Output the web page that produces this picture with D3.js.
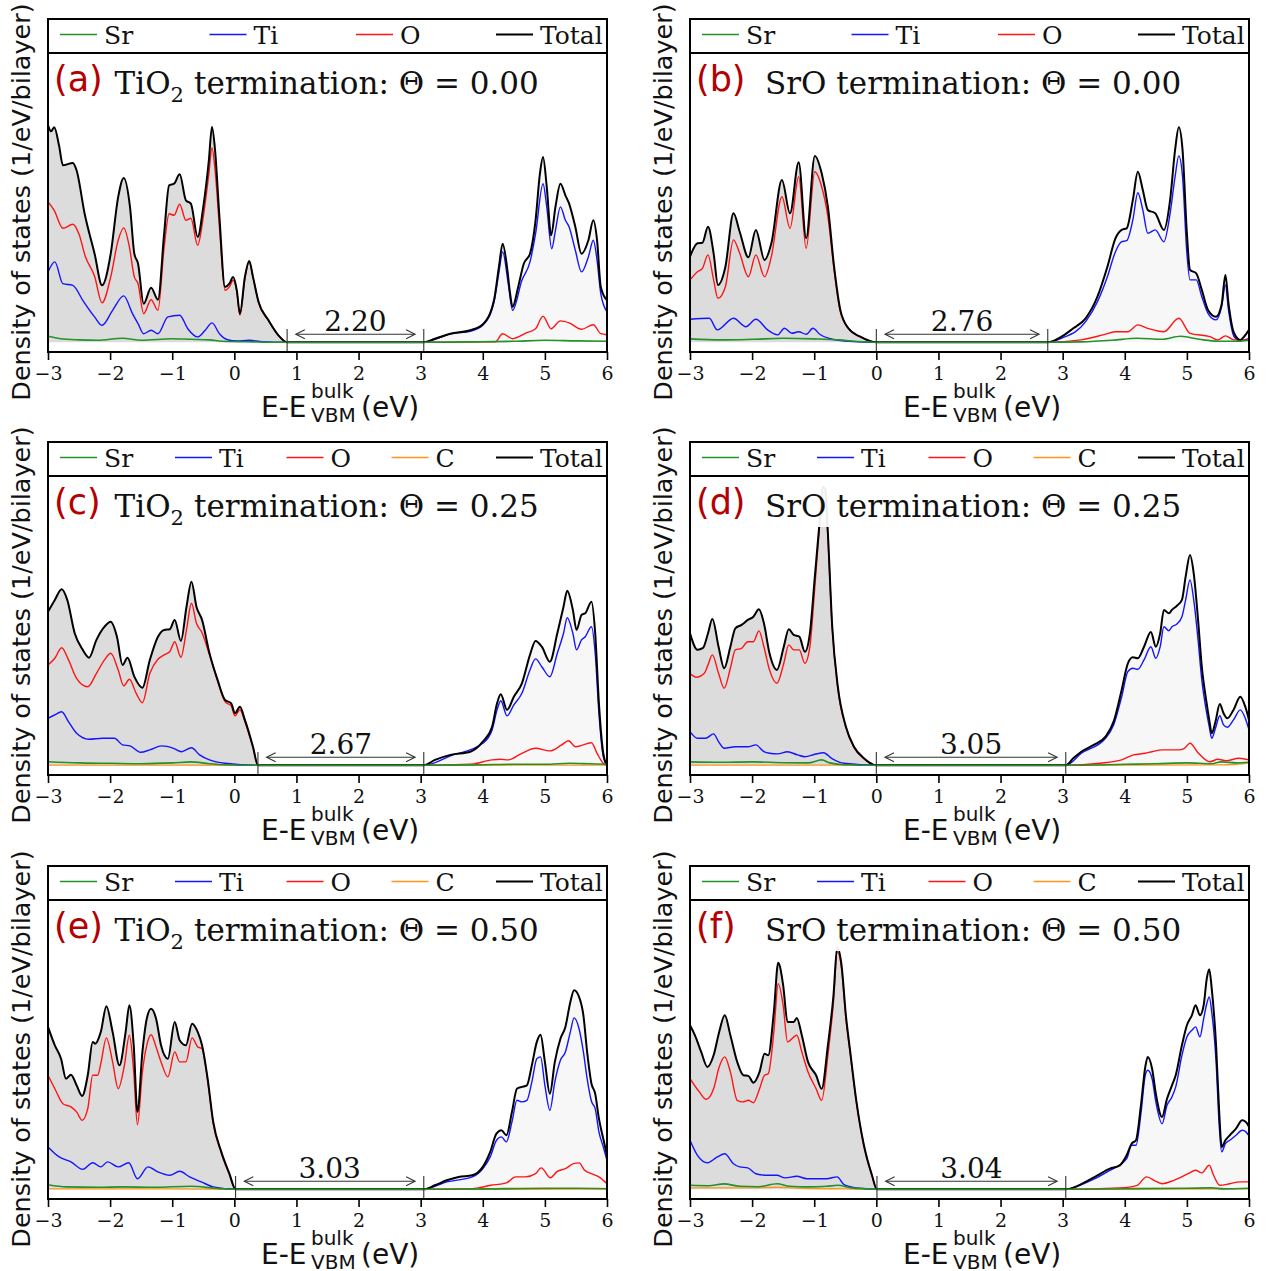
<!DOCTYPE html>
<html>
<head>
<meta charset="utf-8">
<script src="https://cdn.jsdelivr.net/npm/d3@7"></script>
<style>
  html, body { margin: 0; padding: 0; background: #ffffff; }
  svg { display: block; }
</style>
</head>
<body>
<svg id="fig" width="1270" height="1271"></svg>
<script>
// ---------------------------------------------------------------
// Projected density of states of SrTiO3 slabs, E - E_VBM(bulk) in eV
// Each series is a list of [energy, DOS] pairs (DOS in states/eV/bilayer).
// ---------------------------------------------------------------
const energyTicks = [-3, -2, -1, 0, 1, 2, 3, 4, 5, 6];
const panelTags = ['(a)', '(b)', '(c)', '(d)', '(e)', '(f)'];
const terminations = ['TiO2', 'SrO', 'TiO2', 'SrO', 'TiO2', 'SrO'];
const coverages = ['0.00', '0.00', '0.25', '0.25', '0.50', '0.50'];
const vbmEdges = [0.85, 0.00, 0.38, 0.00, 0.02, 0.01];
const bandGaps = [2.20, 2.76, 2.67, 3.05, 3.03, 3.04];
const speciesNames = ['Sr', 'Ti', 'O', 'C', 'Total'];
const speciesColors = { Sr: '#22922a', Ti: '#1414ff', O: '#ff1414', C: '#ff951c', Total: '#000000' };

// (a) TiO2 termination, coverage 0.00
const totA = [[-3.0,10.85],[-2.95,10.55],[-2.9,10.75],[-2.82,9.8],[-2.76,8.85],[-2.6,8.97],[-2.54,8.6],[-2.41,6.43],[-2.25,4.43],[-2.13,2.85],[-1.99,4.43],[-1.87,7.27],[-1.78,8.22],[-1.68,6.77],[-1.61,4.43],[-1.55,3.93],[-1.46,1.93],[-1.34,2.73],[-1.23,2.13],[-1.13,5.43],[-1.05,7.85],[-0.97,7.93],[-0.88,8.4],[-0.78,7.1],[-0.70,6.93],[-0.59,5.27],[-0.50,6.77],[-0.41,9.1],[-0.36,10.77],[-0.31,9.6],[-0.24,6.27],[-0.15,2.77],[-0.08,2.93],[-0.02,3.27],[0.04,2.6],[0.09,1.43],[0.17,3.27],[0.24,4.07],[0.30,3.27],[0.39,2.02],[0.55,1.1],[0.71,0.35],[0.85,0],
  [3.05,0],[3.23,0.18],[3.48,0.43],[3.80,0.6],[4.01,0.93],[4.18,2.1],[4.26,3.77],[4.32,4.93],[4.39,3.77],[4.44,2.43],[4.48,1.77],[4.57,2.77],[4.66,3.93],[4.76,4.43],[4.85,6.1],[4.92,8.43],[4.97,9.27],[5.03,7.77],[5.10,5.35],[5.17,6.77],[5.25,7.93],[5.33,7.35],[5.39,6.93],[5.49,5.77],[5.59,4.43],[5.70,5.1],[5.78,6.1],[5.84,5.1],[5.90,2.77],[6.0,2.1]];
const oA = [[-3.0,7.02],[-2.9,6.6],[-2.76,5.7],[-2.6,5.9],[-2.5,5.4],[-2.4,4.3],[-2.25,3.3],[-2.13,1.97],[-1.99,3.27],[-1.87,5.1],[-1.78,5.72],[-1.69,4.77],[-1.61,3.27],[-1.55,2.93],[-1.46,1.43],[-1.34,2.13],[-1.23,1.6],[-1.13,4.77],[-1.05,6.43],[-0.97,6.35],[-0.88,6.9],[-0.78,6.1],[-0.70,6.2],[-0.59,4.85],[-0.50,6.27],[-0.41,8.43],[-0.36,9.72],[-0.31,8.6],[-0.24,5.77],[-0.15,2.6],[-0.08,2.77],[-0.02,3.1],[0.04,2.52],[0.09,1.35],[0.17,3.18],[0.24,4.02],[0.30,3.27],[0.39,2.0],[0.55,1.1],[0.71,0.35],[0.85,0],
  [3.05,0],[4.2,0.02],[4.32,0.43],[4.48,0.18],[4.7,0.47],[4.85,0.68],[4.97,1.3],[5.1,0.68],[5.25,1.07],[5.39,0.97],[5.59,0.65],[5.78,0.88],[5.9,0.43],[6.0,0.38]];
const tiA = [[-3.0,3.52],[-2.89,4.02],[-2.76,2.93],[-2.6,2.85],[-2.44,2.1],[-2.25,1.27],[-2.13,0.85],[-1.96,1.6],[-1.78,2.32],[-1.64,1.43],[-1.55,0.93],[-1.46,0.43],[-1.34,0.6],[-1.23,0.43],[-1.07,1.27],[-0.88,1.35],[-0.75,0.68],[-0.59,0.27],[-0.47,0.6],[-0.36,0.97],[-0.24,0.43],[-0.11,0.13],[0.04,0.07],[0.24,0.1],[0.45,0.03],[0.85,0],
  [3.05,0],[3.23,0.15],[3.48,0.43],[3.80,0.55],[4.0,0.85],[4.18,2.0],[4.26,3.5],[4.32,4.52],[4.41,2.93],[4.48,1.6],[4.63,3.1],[4.76,4.02],[4.85,5.43],[4.97,7.93],[5.03,6.77],[5.11,4.68],[5.17,5.6],[5.25,6.77],[5.33,6.1],[5.39,5.77],[5.49,4.6],[5.59,3.52],[5.70,4.27],[5.78,5.1],[5.84,4.1],[5.90,2.43],[6.0,1.52]];
const srA = [[-3.0,0.3],[-2.8,0.18],[-2.5,0.12],[-2.2,0.1],[-1.8,0.2],[-1.5,0.1],[-1.0,0.18],[-0.7,0.15],[-0.4,0.12],[-0.2,0.05],[0.3,0.02],[0.85,0],[3.05,0],[4.0,0.03],[4.5,0.05],[5.0,0.1],[5.5,0.07],[6.0,0.05]];

// (b) SrO termination, coverage 0.00
const totB = [[-3.0,4.28],[-2.88,4.95],[-2.8,4.98],[-2.71,5.78],[-2.62,4.45],[-2.55,2.87],[-2.43,3.78],[-2.3,6.45],[-2.2,5.53],[-2.06,4.25],[-1.94,5.62],[-1.8,4.12],[-1.69,4.95],[-1.52,8.12],[-1.39,6.45],[-1.25,9.0],[-1.13,5.2],[-0.99,9.32],[-0.88,8.45],[-0.78,6.78],[-0.68,3.78],[-0.58,1.62],[-0.45,0.7],[-0.26,0.28],[0.0,0],
  [2.76,0],[2.98,0.28],[3.17,0.7],[3.37,1.2],[3.56,2.28],[3.72,3.78],[3.85,5.2],[3.95,5.62],[4.03,5.7],[4.13,7.12],[4.21,8.53],[4.29,7.62],[4.37,6.62],[4.49,6.45],[4.63,5.62],[4.73,7.12],[4.81,9.62],[4.87,10.75],[4.93,9.62],[5.0,5.45],[5.05,3.62],[5.15,3.45],[5.24,2.62],[5.34,1.62],[5.47,1.28],[5.56,1.9],[5.62,3.37],[5.67,1.95],[5.76,0.45],[5.86,0.12],[5.92,0.28],[6.0,0.62]];
const oB = [[-3.0,3.12],[-2.88,3.53],[-2.8,3.7],[-2.71,4.37],[-2.62,3.12],[-2.55,2.2],[-2.43,2.78],[-2.3,5.12],[-2.2,4.45],[-2.06,3.28],[-1.94,4.37],[-1.8,3.28],[-1.69,4.28],[-1.52,7.28],[-1.39,5.7],[-1.25,8.28],[-1.13,4.7],[-0.99,8.53],[-0.88,7.78],[-0.78,6.28],[-0.68,3.62],[-0.58,1.53],[-0.45,0.7],[-0.26,0.28],[0.0,0],
  [2.76,0],[3.3,0.12],[3.65,0.37],[3.85,0.53],[4.05,0.53],[4.21,0.87],[4.37,0.7],[4.63,0.53],[4.87,1.2],[5.05,0.45],[5.37,0.28],[5.5,0.12],[5.62,0.32],[5.76,0.12],[6.0,0.12]];
const tiB = [[-3.0,1.15],[-2.69,1.2],[-2.56,0.62],[-2.3,1.2],[-2.1,0.78],[-1.94,1.15],[-1.75,0.62],[-1.59,0.37],[-1.48,0.7],[-1.36,0.45],[-1.25,0.53],[-1.13,0.4],[-1.02,0.7],[-0.91,0.4],[-0.71,0.15],[-0.45,0.05],[0.0,0],
  [2.76,0],[2.98,0.2],[3.37,1.03],[3.56,2.03],[3.72,3.28],[3.85,4.53],[3.95,5.03],[4.03,5.08],[4.13,6.12],[4.21,7.48],[4.29,6.62],[4.37,5.45],[4.49,5.62],[4.63,5.03],[4.73,6.45],[4.81,8.28],[4.87,9.32],[4.93,8.28],[5.0,4.45],[5.05,3.12],[5.15,3.12],[5.24,2.28],[5.34,1.45],[5.47,1.12],[5.56,1.8],[5.62,2.87],[5.67,1.62],[5.76,0.28],[5.86,0.08],[6.0,0.2]];
const srB = [[-3.0,0.17],[-2.5,0.12],[-2.0,0.15],[-1.5,0.2],[-1.0,0.17],[-0.6,0.12],[-0.3,0.04],[0.0,0],[2.76,0],[3.3,0.02],[3.8,0.1],[4.2,0.2],[4.6,0.15],[4.9,0.3],[5.2,0.15],[5.5,0.05],[5.8,0.05],[6.0,0.1]];

// (c) TiO2 termination, coverage 0.25
const totC = [[-3.0,7.68],[-2.89,8.27],[-2.78,8.8],[-2.69,8.27],[-2.57,6.6],[-2.44,5.77],[-2.34,5.38],[-2.22,6.27],[-2.09,6.93],[-1.99,7.18],[-1.89,6.43],[-1.8,5.02],[-1.72,5.38],[-1.61,4.43],[-1.48,3.88],[-1.36,5.27],[-1.23,6.43],[-1.13,6.77],[-1.04,6.8],[-0.96,7.27],[-0.86,6.22],[-0.77,7.93],[-0.69,9.18],[-0.61,7.93],[-0.52,7.27],[-0.4,5.6],[-0.27,4.27],[-0.15,3.27],[-0.05,3.1],[0.01,2.6],[0.09,2.93],[0.17,2.27],[0.3,0.93],[0.38,0],
  [3.05,0],[3.23,0.27],[3.48,0.52],[3.8,0.68],[4.0,1.18],[4.15,1.93],[4.23,3.1],[4.29,3.55],[4.39,2.77],[4.5,3.43],[4.63,4.1],[4.76,5.52],[4.85,6.22],[4.95,5.93],[5.08,5.18],[5.2,6.6],[5.3,7.93],[5.36,8.73],[5.45,7.77],[5.51,6.77],[5.59,7.52],[5.65,7.6],[5.75,8.18],[5.81,6.6],[5.87,3.1],[5.94,0.6],[6.0,0]];
const oC = [[-3.0,5.02],[-2.89,5.35],[-2.78,5.88],[-2.67,5.27],[-2.54,4.35],[-2.36,3.93],[-2.22,4.6],[-2.09,5.27],[-1.99,5.6],[-1.87,4.77],[-1.78,3.97],[-1.69,4.3],[-1.58,3.6],[-1.48,3.13],[-1.36,4.6],[-1.23,5.3],[-1.13,5.52],[-1.04,5.68],[-0.96,6.18],[-0.86,5.4],[-0.77,6.77],[-0.69,8.1],[-0.61,7.1],[-0.52,6.63],[-0.4,5.52],[-0.27,4.23],[-0.15,3.18],[-0.05,2.97],[0.01,2.47],[0.09,2.77],[0.17,2.18],[0.3,0.9],[0.38,0],
  [3.05,0],[3.8,0.05],[4.15,0.27],[4.28,0.3],[4.41,0.27],[4.63,0.6],[4.85,0.85],[5.08,0.72],[5.27,1.02],[5.38,1.23],[5.49,0.93],[5.62,1.02],[5.75,1.13],[5.84,0.6],[5.94,0.1],[6.0,0]];
const tiC = [[-3.0,2.35],[-2.89,2.52],[-2.78,2.68],[-2.67,2.18],[-2.54,1.6],[-2.34,1.3],[-2.12,1.35],[-1.93,1.35],[-1.8,1.02],[-1.68,0.97],[-1.51,0.65],[-1.36,0.77],[-1.17,0.97],[-0.98,0.85],[-0.85,0.68],[-0.69,0.88],[-0.56,0.52],[-0.4,0.27],[-0.15,0.1],[0.38,0],
  [3.05,0],[3.48,0.47],[4.0,1.1],[4.15,1.77],[4.23,2.77],[4.29,3.23],[4.39,2.47],[4.5,3.02],[4.63,3.6],[4.76,4.77],[4.85,5.32],[4.95,4.93],[5.08,4.43],[5.2,5.6],[5.3,6.6],[5.36,7.38],[5.45,6.6],[5.51,5.77],[5.59,6.27],[5.65,6.43],[5.75,6.93],[5.81,5.6],[5.87,2.6],[5.94,0.43],[6.0,0]];
const srC = [[-3.0,0.18],[-2.5,0.12],[-2.0,0.1],[-1.5,0.08],[-1.0,0.12],[-0.7,0.17],[-0.4,0.08],[-0.15,0.03],[0.38,0],[3.05,0],[4.0,0.03],[4.5,0.05],[5.0,0.05],[5.4,0.1],[5.7,0.08],[6.0,0.05]];
const carbonC = [[-3.0,0.01],[-1.0,0.01],[0.38,0],[3.05,0],[5.0,0.01],[6.0,0.01]];

// (d) SrO termination, coverage 0.25
const totD = [[-3.0,6.6],[-2.88,5.78],[-2.79,5.87],[-2.71,6.6],[-2.64,7.32],[-2.54,5.93],[-2.45,4.85],[-2.35,5.93],[-2.27,6.85],[-2.17,7.02],[-2.07,7.27],[-1.98,7.43],[-1.89,7.8],[-1.81,7.1],[-1.72,5.6],[-1.6,4.77],[-1.49,5.93],[-1.41,6.8],[-1.33,6.52],[-1.24,6.43],[-1.15,5.68],[-1.07,6.6],[-0.99,9.43],[-0.92,11.93],[-0.86,13.93],[-0.82,13.77],[-0.78,11.6],[-0.71,6.93],[-0.62,3.93],[-0.49,1.93],[-0.36,0.93],[-0.2,0.35],[0.0,0],
  [3.05,0],[3.17,0.35],[3.3,0.68],[3.5,1.02],[3.69,1.43],[3.82,2.18],[3.95,3.77],[4.05,5.1],[4.13,5.4],[4.21,5.35],[4.31,5.93],[4.42,6.67],[4.5,5.93],[4.57,6.6],[4.63,7.77],[4.71,7.6],[4.76,7.77],[4.84,7.98],[4.92,8.27],[4.98,9.43],[5.05,10.52],[5.11,9.6],[5.18,7.27],[5.24,4.93],[5.31,3.27],[5.36,2.27],[5.4,1.6],[5.46,2.18],[5.53,3.07],[5.59,2.6],[5.65,2.35],[5.75,2.77],[5.86,3.43],[5.94,2.93],[6.0,2.27]];
const oD = [[-3.0,4.6],[-2.9,4.4],[-2.77,4.6],[-2.71,5.02],[-2.64,5.52],[-2.54,4.6],[-2.45,3.85],[-2.35,4.85],[-2.27,5.77],[-2.17,5.85],[-2.07,6.18],[-1.98,6.18],[-1.89,6.72],[-1.81,5.93],[-1.72,4.77],[-1.6,4.1],[-1.49,5.1],[-1.41,6.02],[-1.33,5.77],[-1.24,5.77],[-1.15,5.1],[-1.07,5.93],[-0.99,8.93],[-0.92,11.77],[-0.86,13.68],[-0.82,13.52],[-0.78,11.43],[-0.71,6.85],[-0.62,3.85],[-0.49,1.9],[-0.36,0.9],[-0.2,0.33],[0.0,0],
  [3.05,0],[3.6,0.1],[3.95,0.27],[4.14,0.52],[4.33,0.6],[4.44,0.68],[4.6,0.77],[4.86,0.77],[4.96,0.85],[5.05,1.1],[5.18,0.63],[5.37,0.18],[5.5,0.3],[5.63,0.23],[5.84,0.35],[6.0,0.27]];
const tiD = [[-3.0,1.68],[-2.88,1.35],[-2.75,1.35],[-2.62,1.57],[-2.54,1.18],[-2.45,0.85],[-2.27,0.93],[-2.07,0.93],[-1.94,1.02],[-1.81,0.68],[-1.72,0.6],[-1.59,0.57],[-1.43,0.68],[-1.27,0.52],[-1.15,0.43],[-0.99,0.55],[-0.85,0.63],[-0.72,0.35],[-0.52,0.1],[0.0,0],
  [3.05,0],[3.3,0.6],[3.69,1.35],[3.82,2.02],[3.95,3.43],[4.05,4.68],[4.13,4.85],[4.21,4.8],[4.31,5.27],[4.42,5.93],[4.5,5.35],[4.57,5.93],[4.63,6.93],[4.71,6.73],[4.76,6.93],[4.84,7.07],[4.92,7.43],[4.98,8.27],[5.05,9.27],[5.11,8.27],[5.18,6.27],[5.24,4.27],[5.31,2.77],[5.36,1.93],[5.4,1.35],[5.46,1.85],[5.53,2.48],[5.59,2.02],[5.65,1.9],[5.75,2.27],[5.86,2.77],[5.94,2.35],[6.0,1.77]];
const srD = [[-3.0,0.17],[-2.5,0.15],[-2.0,0.17],[-1.5,0.13],[-1.1,0.12],[-0.88,0.27],[-0.75,0.12],[-0.5,0.03],[0.0,0],[3.05,0],[4.0,0.05],[4.5,0.08],[5.0,0.12],[5.4,0.08],[5.55,0.17],[5.8,0.12],[6.0,0.15]];
const carbonD = [[-3.0,0.01],[-1.0,0.01],[0.0,0],[3.05,0],[5.5,0.02],[5.8,0.05],[6.0,0.12]];

// (e) TiO2 termination, coverage 0.50
const totE = [[-3.0,8.12],[-2.89,7.2],[-2.79,6.53],[-2.71,5.53],[-2.63,5.73],[-2.54,5.2],[-2.45,4.67],[-2.36,5.7],[-2.28,7.37],[-2.24,7.28],[-2.15,7.87],[-2.06,9.15],[-1.96,7.87],[-1.85,6.2],[-1.75,7.87],[-1.69,9.2],[-1.62,7.2],[-1.56,3.87],[-1.48,6.87],[-1.41,8.53],[-1.34,9.03],[-1.26,8.53],[-1.18,7.2],[-1.07,6.53],[-0.96,8.37],[-0.88,7.45],[-0.78,7.2],[-0.68,8.28],[-0.59,7.87],[-0.52,7.2],[-0.43,5.53],[-0.34,3.37],[-0.21,1.87],[-0.08,0.78],[0.02,0],
  [3.05,0],[3.23,0.2],[3.42,0.45],[3.61,0.62],[3.83,0.7],[4.0,1.12],[4.12,1.87],[4.22,2.78],[4.3,2.95],[4.38,2.7],[4.47,3.87],[4.55,5.03],[4.63,5.12],[4.71,5.2],[4.79,6.2],[4.87,7.37],[4.93,7.73],[5.0,6.37],[5.08,4.78],[5.16,6.37],[5.25,7.53],[5.33,8.12],[5.41,9.37],[5.47,9.95],[5.55,9.62],[5.62,8.7],[5.68,6.87],[5.75,5.28],[5.81,4.78],[5.87,3.53],[5.94,2.53],[6.0,1.7]];
const oE = [[-3.0,5.7],[-2.89,5.03],[-2.76,4.28],[-2.63,4.12],[-2.54,3.87],[-2.45,3.45],[-2.36,4.03],[-2.28,5.7],[-2.2,5.7],[-2.15,6.28],[-2.06,7.57],[-1.96,6.37],[-1.87,5.03],[-1.77,6.2],[-1.69,7.7],[-1.62,5.87],[-1.56,3.23],[-1.48,5.87],[-1.41,7.2],[-1.34,7.73],[-1.26,7.12],[-1.18,6.37],[-1.07,5.62],[-0.96,6.87],[-0.88,6.37],[-0.78,6.37],[-0.68,7.57],[-0.59,7.12],[-0.52,7.03],[-0.43,5.45],[-0.34,3.28],[-0.21,1.83],[-0.08,0.75],[0.02,0],
  [3.05,0],[3.83,0.03],[4.13,0.2],[4.38,0.32],[4.53,0.62],[4.69,0.62],[4.85,0.78],[4.94,1.07],[5.09,0.58],[5.2,0.9],[5.33,1.03],[5.46,1.28],[5.55,1.32],[5.64,0.95],[5.75,0.78],[5.87,0.62],[6.0,0.28]];
const tiE = [[-3.0,2.12],[-2.82,1.62],[-2.63,1.37],[-2.44,1.0],[-2.28,1.33],[-2.15,1.12],[-2.04,1.37],[-1.87,1.12],[-1.7,1.33],[-1.56,0.53],[-1.39,1.12],[-1.23,0.87],[-1.04,0.7],[-0.88,0.9],[-0.72,0.62],[-0.53,0.37],[-0.34,0.12],[0.02,0],
  [3.05,0],[3.42,0.37],[3.83,0.62],[4.0,1.03],[4.12,1.62],[4.22,2.45],[4.3,2.62],[4.38,2.37],[4.47,3.37],[4.55,4.45],[4.63,4.37],[4.71,4.45],[4.79,5.37],[4.87,6.53],[4.93,6.62],[5.0,5.2],[5.08,3.95],[5.16,5.37],[5.25,6.45],[5.33,6.87],[5.41,7.87],[5.47,8.57],[5.55,8.03],[5.62,6.87],[5.68,5.53],[5.75,4.4],[5.81,4.03],[5.87,2.87],[5.94,2.12],[6.0,1.45]];
const srE = [[-3.0,0.23],[-2.7,0.12],[-2.2,0.1],[-1.8,0.12],[-1.3,0.1],[-0.7,0.15],[-0.3,0.05],[0.02,0],[3.05,0],[4.0,0.02],[5.0,0.05],[5.5,0.05],[6.0,0.03]];
const carbonE = [[-3.0,0.02],[-1.0,0.02],[0.02,0],[3.05,0],[6.0,0.01]];

// (f) SrO termination, coverage 0.50
const totF = [[-3.0,8.2],[-2.92,7.7],[-2.82,6.87],[-2.72,6.12],[-2.62,6.7],[-2.53,7.87],[-2.44,8.7],[-2.35,7.7],[-2.24,6.37],[-2.14,5.7],[-2.06,5.67],[-1.98,5.33],[-1.88,5.87],[-1.8,6.78],[-1.74,6.7],[-1.65,8.87],[-1.58,11.33],[-1.5,10.2],[-1.43,8.37],[-1.33,8.37],[-1.28,8.57],[-1.2,7.7],[-1.1,6.37],[-0.97,5.7],[-0.88,5.03],[-0.78,7.2],[-0.69,9.7],[-0.63,12.1],[-0.56,11.2],[-0.49,8.7],[-0.42,6.87],[-0.32,4.37],[-0.2,2.2],[-0.07,0.7],[0.01,0],
  [3.05,0],[3.24,0.17],[3.37,0.37],[3.56,0.7],[3.76,1.03],[3.92,1.2],[4.03,1.7],[4.11,2.28],[4.18,2.45],[4.26,4.2],[4.33,6.12],[4.37,6.62],[4.44,6.03],[4.5,4.78],[4.6,3.62],[4.68,4.53],[4.76,5.2],[4.82,5.7],[4.92,7.2],[5.0,8.2],[5.08,8.7],[5.14,9.2],[5.21,8.7],[5.27,9.2],[5.32,10.53],[5.36,11.0],[5.4,10.03],[5.47,7.2],[5.52,3.87],[5.56,2.12],[5.62,2.45],[5.69,2.7],[5.79,3.03],[5.89,3.45],[5.95,3.37],[6.0,3.12]];
const oF = [[-3.0,5.53],[-2.85,4.87],[-2.74,4.5],[-2.62,5.03],[-2.53,6.12],[-2.44,6.62],[-2.35,5.87],[-2.24,4.45],[-2.15,4.37],[-2.06,4.45],[-1.98,4.33],[-1.88,5.03],[-1.8,5.7],[-1.74,5.78],[-1.65,7.87],[-1.58,10.28],[-1.5,9.2],[-1.43,7.37],[-1.28,7.7],[-1.2,6.87],[-1.1,5.87],[-0.97,5.03],[-0.88,4.45],[-0.78,6.7],[-0.69,9.37],[-0.63,11.87],[-0.56,11.03],[-0.49,8.53],[-0.42,6.78],[-0.32,4.33],[-0.2,2.17],[-0.07,0.67],[0.01,0],
  [3.05,0],[3.92,0.07],[4.2,0.2],[4.35,0.62],[4.5,0.4],[4.6,0.28],[4.79,0.45],[5.02,0.78],[5.14,0.95],[5.24,0.82],[5.36,1.2],[5.43,0.7],[5.53,0.2],[5.69,0.28],[5.85,0.37],[6.0,0.37]];
const tiF = [[-3.0,2.45],[-2.88,1.7],[-2.72,1.33],[-2.56,1.62],[-2.44,1.78],[-2.3,1.28],[-2.2,1.12],[-2.07,1.07],[-1.94,0.78],[-1.75,0.7],[-1.6,0.7],[-1.47,0.57],[-1.28,0.65],[-1.12,0.53],[-0.96,0.53],[-0.8,0.53],[-0.63,0.62],[-0.52,0.23],[-0.32,0.07],[0.01,0],
  [3.05,0],[3.37,0.32],[3.76,0.95],[4.03,1.53],[4.11,2.2],[4.18,2.2],[4.26,3.78],[4.33,5.7],[4.37,5.95],[4.44,5.53],[4.5,4.37],[4.6,3.28],[4.68,4.2],[4.76,4.62],[4.82,5.12],[4.92,6.7],[5.0,7.62],[5.08,7.95],[5.14,8.12],[5.21,7.62],[5.27,8.53],[5.32,9.28],[5.36,9.62],[5.4,8.87],[5.47,6.37],[5.52,3.2],[5.56,1.87],[5.62,2.28],[5.69,2.45],[5.79,2.7],[5.89,2.95],[5.95,2.87],[6.0,2.67]];
const srF = [[-3.0,0.2],[-2.7,0.18],[-2.45,0.27],[-2.2,0.15],[-1.9,0.13],[-1.6,0.28],[-1.4,0.15],[-1.1,0.12],[-0.8,0.15],[-0.62,0.2],[-0.4,0.07],[-0.1,0.02],[0.01,0],[3.05,0],[4.0,0.03],[5.0,0.05],[5.4,0.07],[5.6,0.02],[6.0,0.05]];
const carbonF = [[-3.0,0.07],[-2.0,0.07],[-1.6,0.1],[-1.2,0.05],[-0.5,0.02],[0.01,0],[3.05,0],[6.0,0.02]];

// series per panel, in panel order (a)..(f)
const srSeries = [srA, srB, srC, srD, srE, srF];
const tiSeries = [tiA, tiB, tiC, tiD, tiE, tiF];
const oSeries = [oA, oB, oC, oD, oE, oF];
const carbonSeries = [null, null, carbonC, carbonD, carbonE, carbonF];
const totalSeries = [totA, totB, totC, totD, totE, totF];

// ---------------------------------------------------------------
// layout
// ---------------------------------------------------------------
const svg = d3.select('#fig');
const colLeft = [48, 690];
const rowTop = [19, 442, 866];
const plotW = 559;
const legendH = 34;        // legend strip above each axes
const axesBottomOff = 333; // axes bottom relative to row top
const zeroOff = 323.3;     // DOS = 0 level relative to row top
const pxPerUnit = 20;
const yMin = -(axesBottomOff - zeroOff) / pxPerUnit;
const yMax = (zeroOff - legendH) / pxPerUnit;

const serif = "'DejaVu Serif', 'Liberation Serif', serif";
const sans = "'DejaVu Sans', 'Liberation Sans', sans-serif";

const legendSlots = { 4: [12, 161.5, 308, 448], 5: [12, 127, 238.5, 343.5, 448] };

function fmtTick(d) { return d < 0 ? '\u2212' + Math.abs(d) : String(d); }

panelTags.forEach((tag, i) => {
  const col = i % 2, row = Math.floor(i / 2);
  const x0 = colLeft[col], t = rowTop[row];
  const x = d3.scaleLinear().domain([energyTicks[0], energyTicks[energyTicks.length - 1]]).range([x0, x0 + plotW]);
  const y = d3.scaleLinear().domain([yMin, yMax]).range([t + axesBottomOff, t + legendH]);
  const vbm = vbmEdges[i], cbm = +(vbmEdges[i] + bandGaps[i]).toFixed(2);

  const g = svg.append('g').attr('class', 'panel');

  const clipId = 'plotclip' + i;
  svg.append('defs').append('clipPath').attr('id', clipId)
    .append('rect').attr('x', x0).attr('y', t + legendH).attr('width', plotW).attr('height', axesBottomOff - legendH);

  const plot = g.append('g').attr('clip-path', `url(#${clipId})`);

  const total = totalSeries[i];
  const area = d3.area().x(d => x(d[0])).y0(y(0)).y1(d => y(d[1])).curve(d3.curveMonotoneX);
  const line = d3.line().x(d => x(d[0])).y(d => y(d[1])).curve(d3.curveMonotoneX);

  // shaded valence and conduction bands under the total DOS
  plot.append('path').attr('d', area(total.filter(d => d[0] <= vbm + 1e-6))).attr('fill', '#dcdcdc');
  plot.append('path').attr('d', area(total.filter(d => d[0] >= cbm - 1e-6))).attr('fill', '#f7f7f7');

  const layers = [
    ['C', carbonSeries[i], 1.4],
    ['Ti', tiSeries[i], 1.4],
    ['O', oSeries[i], 1.4],
    ['Total', total, 2.0],
    ['Sr', srSeries[i], 1.6]
  ];
  layers.forEach(([name, data, w]) => {
    if (!data) return;
    plot.append('path').attr('d', line(data)).attr('fill', 'none')
      .attr('stroke', speciesColors[name]).attr('stroke-width', w)
      .attr('stroke-linejoin', 'round');
  });

  // band-gap annotation
  const ann = g.append('g').attr('stroke', '#333').attr('stroke-width', 1.1).attr('fill', 'none');
  [vbm, cbm].forEach(e => {
    ann.append('line').attr('x1', x(e)).attr('x2', x(e)).attr('y1', t + 310).attr('y2', t + axesBottomOff);
  });
  const ay = t + 315.3;
  const xl = x(vbm + 0.14), xr = x(cbm - 0.14);
  ann.append('line').attr('x1', xl).attr('x2', xr).attr('y1', ay).attr('y2', ay);
  ann.append('path').attr('d', `M${xl + 9},${ay - 4.5}L${xl},${ay}L${xl + 9},${ay + 4.5}`);
  ann.append('path').attr('d', `M${xr - 9},${ay - 4.5}L${xr},${ay}L${xr - 9},${ay + 4.5}`);
  g.append('text').attr('x', x((vbm + cbm) / 2)).attr('y', t + 311.5)
    .attr('text-anchor', 'middle').attr('font-family', serif).attr('font-size', 28)
    .attr('fill', '#111').text(bandGaps[i].toFixed(2));

  // title with translucent backing box
  const titleG = g.append('g');
  const box = titleG.append('rect').attr('fill', '#ffffff').attr('fill-opacity', 0.93);
  titleG.append('text').attr('x', x0 + 6).attr('y', t + 71.5)
    .attr('font-family', sans).attr('font-size', 35).attr('fill', '#b40000').text(tag);
  const term = terminations[i];
  const tt = titleG.append('text').attr('y', t + 74.5)
    .attr('font-family', serif).attr('font-size', 31).attr('fill', '#111');
  if (term === 'TiO2') {
    tt.attr('x', x0 + 66.6);
    tt.append('tspan').text('TiO');
    tt.append('tspan').attr('font-size', 21).attr('dy', 8).text('2');
    tt.append('tspan').attr('dy', -8).attr('x', x0 + 146).text('termination: \u0398 = ' + coverages[i]);
  } else {
    tt.attr('x', x0 + 75);
    tt.append('tspan').text('SrO termination: \u0398 = ' + coverages[i]);
  }
  const bb = tt.node().getBBox();
  box.attr('x', bb.x - 5).attr('y', t + 43).attr('width', bb.width + 10).attr('height', 42);

  // frames
  g.append('rect').attr('x', x0).attr('y', t).attr('width', plotW).attr('height', legendH)
    .attr('fill', 'none').attr('stroke', '#000').attr('stroke-width', 2);
  g.append('rect').attr('x', x0).attr('y', t + legendH).attr('width', plotW).attr('height', axesBottomOff - legendH)
    .attr('fill', 'none').attr('stroke', '#000').attr('stroke-width', 2);

  // legend
  const names = speciesNames.filter(n => n !== 'C' || carbonSeries[i]);
  const slots = legendSlots[names.length];
  names.forEach((n, k) => {
    const lx = x0 + slots[k];
    g.append('line').attr('x1', lx).attr('x2', lx + 37).attr('y1', t + 15.5).attr('y2', t + 15.5)
      .attr('stroke', speciesColors[n]).attr('stroke-width', n === 'Total' ? 2 : 1.5);
    g.append('text').attr('x', lx + 44).attr('y', t + 24.5).attr('font-family', serif)
      .attr('font-size', 25).attr('fill', '#111').text(n);
  });

  // x axis
  const axis = d3.axisBottom(x).tickValues(energyTicks).tickSize(8).tickPadding(7).tickFormat(fmtTick);
  const ax = g.append('g').attr('transform', `translate(0,${t + axesBottomOff})`).call(axis);
  ax.select('.domain').remove();
  ax.selectAll('.tick line').attr('stroke', '#000').attr('stroke-width', 1.6);
  ax.selectAll('.tick text').attr('font-family', serif).attr('font-size', 19).attr('fill', '#111');

  // x label
  const xlab = g.append('text').attr('font-family', sans).attr('fill', '#111');
  xlab.append('tspan').attr('x', x0 + 213).attr('y', t + 397.5).attr('font-size', 28).text('E-E');
  xlab.append('tspan').attr('x', x0 + 263).attr('y', t + 379.3).attr('font-size', 20).text('bulk');
  xlab.append('tspan').attr('x', x0 + 263).attr('y', t + 402.5).attr('font-size', 20).text('VBM');
  xlab.append('tspan').attr('x', x0 + 313).attr('y', t + 397.5).attr('font-size', 28).text('(eV)');

  // y label
  g.append('text').attr('transform', `translate(${x0 - 18},${t + 183}) rotate(-90)`)
    .attr('text-anchor', 'middle').attr('font-family', sans).attr('font-size', 25.5)
    .attr('fill', '#111').text('Density of states (1/eV/bilayer)');
});
</script>
</body>
</html>
